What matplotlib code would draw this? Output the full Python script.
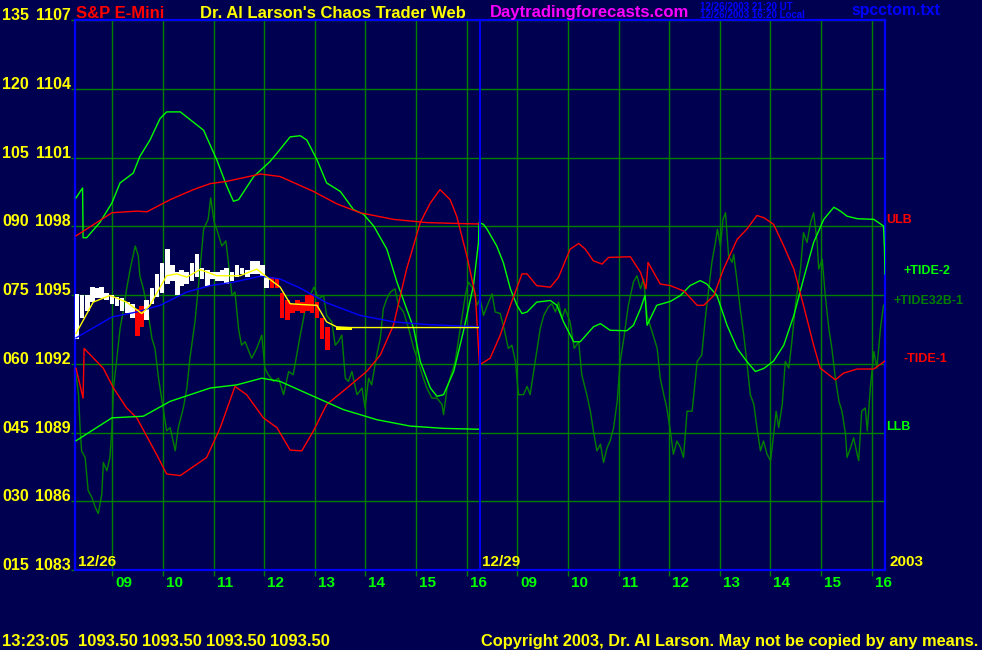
import numpy as np
import matplotlib
matplotlib.use('Agg')
from matplotlib import pyplot as plt
from matplotlib import font_manager as fm
from matplotlib import transforms

# ---- data ----
# time axis: hours since the left edge of the chart, day 1 = 0..8, day 2 = 8..16
session_start = 8.264          # clock hour at the left edge of each day
hours = [9, 10, 11, 12, 13, 14, 15, 16]
hour_labels = ['09', '10', '11', '12', '13', '14', '15', '16']
price_levels = [1083, 1086, 1089, 1092, 1095, 1098, 1101, 1104, 1107]
level_codes = ['015', '030', '045', '060', '075', '090', '105', '120', '135']

# upper / lower bands (day 1 only)
ulb_t = [0.02, 0.73, 1.22, 1.42, 1.88, 2.34, 2.67, 3.00, 3.66, 4.05, 4.71, 5.17, 5.63, 6.29, 6.95, 7.74, 8.0]
ulb_p = [1097.58, 1098.59, 1098.66, 1098.63, 1099.16, 1099.60, 1099.86, 1099.96, 1100.28, 1100.17,
         1099.52, 1098.98, 1098.59, 1098.30, 1098.16, 1098.11, 1098.10]
llb_t = [0.02, 0.73, 1.35, 1.88, 2.67, 3.20, 3.69, 4.05, 4.71, 5.30, 5.96, 6.62, 7.28, 8.0]
llb_p = [1088.64, 1089.64, 1089.71, 1090.36, 1090.94, 1091.08, 1091.37, 1091.23, 1090.58, 1090.00,
         1089.56, 1089.28, 1089.18, 1089.14]

# moving averages (day 1 only)
blue_t = [0.02, 0.73, 1.22, 1.68, 2.21, 2.67, 3.13, 3.66, 4.05, 4.45, 4.97, 5.63, 6.29, 6.95, 8.0]
blue_p = [1093.13, 1094.04, 1094.26, 1094.55, 1095.13, 1095.41, 1095.56, 1095.82, 1095.70, 1095.30,
          1094.66, 1094.11, 1093.83, 1093.71, 1093.61]
yel_t = [0.02, 0.36, 0.69, 1.02, 1.32, 1.48, 1.81, 2.01, 2.21, 2.47, 2.80, 3.26, 3.59, 3.79, 4.05,
         4.25, 4.51, 4.78, 4.97, 5.17, 5.43, 8.0]
yel_p = [1093.32, 1094.69, 1094.98, 1094.69, 1094.19, 1094.55, 1095.84, 1095.92, 1095.78, 1096.11,
         1095.84, 1095.84, 1096.13, 1095.78, 1095.35, 1094.62, 1094.58, 1094.55, 1093.83, 1093.61,
         1093.58, 1093.58]
last_t = [5.17, 5.43]          # thicker piece of the yellow line (last trade)
last_p = [1093.58, 1093.58]

# price bars
bar_t = [0.04, 0.14, 0.24, 0.34, 0.43, 0.53, 0.63, 0.73, 0.83, 0.93, 1.03, 1.13, 1.23, 1.32, 1.42,
         1.52, 1.62, 1.72, 1.82, 1.92, 2.02, 2.11, 2.21, 2.31, 2.41, 2.51, 2.61, 2.71, 2.81, 2.91,
         3.00, 3.10, 3.20, 3.30, 3.40, 3.50, 3.60, 3.70, 3.79, 3.89, 3.99, 4.09, 4.19, 4.29, 4.39,
         4.49, 4.59, 4.68, 4.78, 4.88, 4.98]
bar_hi = [1095.05, 1094.98, 1095.00, 1095.35, 1095.30, 1095.35, 1095.10, 1095.00, 1094.90, 1094.85,
          1094.70, 1094.60, 1094.40, 1094.50, 1094.80, 1095.30, 1095.90, 1096.40, 1097.00, 1096.30,
          1096.00, 1096.10, 1096.00, 1096.40, 1096.80, 1096.20, 1096.10, 1096.00, 1096.00, 1096.10,
          1096.20, 1096.00, 1096.30, 1096.20, 1096.10, 1096.50, 1096.50, 1096.30, 1095.80, 1095.80,
          1095.70, 1095.10, 1094.80, 1094.60, 1094.80, 1094.70, 1095.00, 1095.05, 1094.70, 1094.00,
          1093.60]
bar_lo = [1093.10, 1094.00, 1094.30, 1094.70, 1094.85, 1094.85, 1094.80, 1094.60, 1094.50, 1094.30,
          1094.20, 1094.00, 1093.20, 1093.60, 1093.90, 1094.60, 1094.90, 1095.10, 1095.50, 1095.60,
          1095.00, 1095.40, 1095.50, 1095.60, 1095.80, 1095.70, 1095.40, 1095.70, 1095.60, 1095.60,
          1095.50, 1095.60, 1095.80, 1095.90, 1095.80, 1095.90, 1095.90, 1095.80, 1095.30, 1095.30,
          1095.30, 1094.00, 1093.90, 1094.20, 1094.30, 1094.20, 1094.30, 1094.20, 1094.00, 1093.10,
          1092.60]
bar_dir = ['w'] * 12 + ['r'] * 2 + ['w'] * 25 + ['r'] * 12

# -TIDE-1 (red)
tide1_t = [0.02, 0.16, 0.18, 0.56, 0.76, 1.02, 1.22, 1.61, 1.81, 2.08, 2.60, 2.87, 3.16, 3.39, 3.72,
           3.99, 4.25, 4.48, 4.71, 4.97, 5.37, 5.76, 6.03, 6.29, 6.55, 6.82, 7.02, 7.21, 7.41, 7.54,
           7.74, 7.91, 7.99,
           8.20, 8.40, 8.60, 8.83, 8.93, 9.12, 9.39, 9.55, 9.78, 9.95, 10.08, 10.24, 10.41, 10.54,
           10.97, 11.17, 11.28, 11.32, 11.56, 11.76, 12.03, 12.29, 12.42, 12.62, 12.81, 13.08, 13.27,
           13.47, 13.61, 13.80, 14.00, 14.20, 14.39, 14.59, 14.72, 15.02, 15.18, 15.45, 15.78, 16.0]
tide1_p = [1091.80, 1090.50, 1092.67, 1091.80, 1090.94, 1090.07, 1089.64, 1088.05, 1087.19, 1087.12,
           1087.91, 1089.21, 1091.01, 1090.65, 1089.64, 1089.21, 1088.23, 1088.20, 1089.07, 1090.22,
           1090.94, 1091.66, 1092.38, 1093.68, 1096.13, 1098.16, 1099.02, 1099.60, 1099.16, 1098.44,
           1096.71, 1094.98, 1091.95,
           1092.24, 1093.25, 1094.55, 1095.92, 1095.92, 1095.41, 1095.34, 1095.77, 1097.00, 1097.25,
           1097.00, 1096.49, 1096.35, 1096.64, 1096.67, 1095.99, 1095.27, 1096.42, 1095.48, 1095.41,
           1095.17, 1094.55, 1094.55, 1094.98, 1096.13, 1097.43, 1097.87, 1098.47, 1098.37, 1098.08,
           1097.14, 1096.13, 1094.55, 1092.81, 1091.81, 1091.30, 1091.59, 1091.77, 1091.77, 1092.12]

# +TIDE-2 (bright green)
tide2_t = [0.02, 0.15, 0.16, 0.23, 0.49, 0.73, 0.89, 1.15, 1.28, 1.48, 1.68, 1.81, 2.08, 2.54, 2.80,
           3.00, 3.13, 3.23, 3.53, 3.85, 3.99, 4.25, 4.45, 4.58, 4.78, 4.97, 5.24, 5.50, 5.70, 5.90,
           6.16, 6.36, 6.55, 6.69, 6.82, 7.02, 7.15, 7.28, 7.48, 7.67, 7.87, 7.97, 7.98,
           8.07, 8.14, 8.33, 8.46, 8.60, 8.73, 8.83, 8.93, 9.12, 9.39, 9.52, 9.65, 9.85, 9.98, 10.24,
           10.38, 10.57, 10.90, 11.03, 11.17, 11.26, 11.30, 11.49, 11.76, 11.96, 12.15, 12.35, 12.48,
           12.68, 12.88, 13.08, 13.27, 13.44, 13.61, 13.80, 14.00, 14.20, 14.39, 14.59, 14.79, 14.99,
           15.12, 15.25, 15.45, 15.78, 15.97, 15.99, 16.0]
tide2_p = [1099.24, 1099.67, 1097.50, 1097.50, 1098.16, 1099.02, 1099.89, 1100.32, 1101.04, 1101.76,
           1102.70, 1102.99, 1102.99, 1102.19, 1100.90, 1099.74, 1099.09, 1099.16, 1100.17, 1100.82,
           1101.19, 1101.90, 1101.95, 1101.76, 1100.90, 1099.89, 1099.52, 1098.73, 1098.52, 1098.01,
           1097.00, 1095.56, 1094.40, 1093.54, 1092.10, 1090.94, 1090.58, 1090.65, 1091.66, 1093.39,
           1095.41, 1097.29, 1098.16,
           1098.08, 1097.87, 1097.14, 1096.42, 1095.27, 1094.55, 1094.19, 1094.26, 1094.69, 1094.76,
           1094.55, 1093.83, 1092.96, 1092.96, 1093.61, 1093.75, 1093.46, 1093.44, 1093.68, 1094.40,
           1094.98, 1093.68, 1094.55, 1094.72, 1094.98, 1095.41, 1095.63, 1095.48, 1094.98, 1093.68,
           1092.67, 1092.10, 1091.66, 1091.80, 1092.12, 1092.81, 1094.11, 1095.70, 1097.29, 1098.30,
           1098.83, 1098.66, 1098.44, 1098.33, 1098.30, 1098.01, 1097.00, 1095.92]

# +TIDE32B-1 (dark green)
tide32_t = [0.02, 0.07, 0.10, 0.13, 0.20, 0.26, 0.33, 0.40, 0.46, 0.53, 0.56, 0.63, 0.69, 0.73, 0.76,
            0.82, 0.89, 0.95, 1.02, 1.09, 1.19, 1.25, 1.28, 1.35, 1.42, 1.52, 1.58, 1.65, 1.75, 1.81,
            1.88, 1.98, 2.04, 2.14, 2.21, 2.27, 2.37, 2.47, 2.54, 2.63, 2.68, 2.75, 2.80, 2.90, 2.98,
            3.03, 3.10, 3.16, 3.23, 3.29, 3.36, 3.49, 3.59, 3.69, 3.75, 3.82, 3.92, 4.02, 4.12, 4.22,
            4.31, 4.38, 4.45, 4.55, 4.64, 4.72, 4.81, 4.91, 4.97, 5.07, 5.14, 5.20, 5.27, 5.34, 5.40,
            5.47, 5.57, 5.67, 5.73, 5.80, 5.86, 5.96, 6.03, 6.09, 6.16, 6.23, 6.32, 6.39, 6.49, 6.59,
            6.69, 6.78, 6.88, 6.95, 7.05, 7.15, 7.25, 7.28, 7.35, 7.41, 7.51, 7.61, 7.71, 7.77, 7.87,
            7.94,
            8.00, 8.07, 8.17, 8.24, 8.30, 8.40, 8.46, 8.56, 8.63, 8.70, 8.76, 8.86, 8.93, 8.99, 9.09,
            9.19, 9.26, 9.35, 9.42, 9.49, 9.55, 9.62, 9.68, 9.78, 9.86, 9.95, 10.01, 10.11, 10.18,
            10.24, 10.31, 10.38, 10.44, 10.51, 10.57, 10.64, 10.71, 10.77, 10.84, 10.93, 11.03, 11.10,
            11.17, 11.23, 11.30, 11.40, 11.50, 11.56, 11.63, 11.69, 11.76, 11.82, 11.89, 11.96, 12.02,
            12.09, 12.19, 12.29, 12.38, 12.45, 12.52, 12.58, 12.65, 12.69, 12.75, 12.80, 12.85, 12.91,
            12.98, 13.01, 13.08, 13.14, 13.21, 13.27, 13.34, 13.41, 13.47, 13.54, 13.60, 13.67, 13.74,
            13.80, 13.85, 13.90, 13.97, 14.03, 14.10, 14.16, 14.23, 14.33, 14.39, 14.46, 14.53, 14.59,
            14.66, 14.69, 14.76, 14.82, 14.89, 14.95, 15.02, 15.09, 15.15, 15.22, 15.25, 15.32, 15.38,
            15.45, 15.48, 15.54, 15.61, 15.65, 15.71, 15.78, 15.84, 15.91, 15.97, 16.0]
tide32_p = [1091.52, 1090.65, 1089.21, 1088.20, 1087.91, 1086.47, 1086.18, 1085.74, 1085.46, 1086.32,
            1087.69, 1087.33, 1087.91, 1089.21, 1090.94, 1092.10, 1093.54, 1094.26, 1095.27, 1096.13,
            1097.14, 1096.71, 1095.84, 1095.27, 1094.55, 1093.10, 1092.67, 1091.37, 1089.93, 1089.07,
            1089.21, 1088.20, 1089.21, 1090.07, 1090.94, 1092.24, 1093.83, 1096.13, 1097.87, 1098.30,
            1099.24, 1098.16, 1097.87, 1097.14, 1097.36, 1096.42, 1094.98, 1095.13, 1093.54, 1092.81,
            1092.96, 1092.24, 1092.67, 1093.25, 1091.81, 1091.52, 1091.23, 1091.37, 1090.65, 1091.66,
            1091.52, 1092.38, 1093.25, 1094.40, 1094.98, 1095.34, 1094.84, 1094.98, 1094.11, 1093.83,
            1092.81, 1092.96, 1093.25, 1091.37, 1091.23, 1091.66, 1090.65, 1090.94, 1090.07, 1091.37,
            1091.08, 1092.38, 1093.10, 1094.40, 1094.84, 1095.13, 1095.27, 1094.55, 1094.26, 1093.54,
            1092.67, 1092.10, 1091.37, 1090.94, 1090.50, 1090.50, 1090.22, 1089.78, 1090.94, 1091.37,
            1092.10, 1093.54, 1094.98, 1095.56, 1095.27, 1094.55,
            1094.84, 1094.11, 1094.69, 1095.05, 1094.26, 1094.19, 1093.68, 1092.67, 1092.81, 1092.10,
            1090.65, 1090.65, 1091.01, 1090.65, 1092.10, 1093.54, 1094.11, 1094.48, 1094.62, 1094.26,
            1094.69, 1093.97, 1094.40, 1093.83, 1092.67, 1092.96, 1091.52, 1090.65, 1089.93, 1089.07,
            1088.20, 1088.49, 1087.69, 1088.34, 1088.63, 1089.21, 1090.36, 1092.10, 1093.10, 1094.55,
            1095.56, 1095.84, 1095.27, 1095.70, 1094.11, 1093.39, 1092.67, 1091.37, 1090.65, 1090.07,
            1089.07, 1088.05, 1088.63, 1088.34, 1087.91, 1089.93, 1089.93, 1092.10, 1092.38, 1093.97,
            1095.27, 1096.42, 1097.29, 1097.87, 1097.14, 1098.30, 1098.59, 1096.71, 1096.42, 1096.78,
            1095.56, 1094.40, 1093.25, 1092.10, 1090.65, 1090.22, 1089.21, 1088.20, 1088.63, 1088.05,
            1087.77, 1088.92, 1089.93, 1089.21, 1090.22, 1092.10, 1091.81, 1092.96, 1094.55, 1096.13,
            1097.72, 1097.29, 1098.16, 1098.59, 1097.29, 1096.13, 1096.56, 1094.98, 1093.54, 1092.67,
            1091.37, 1090.36, 1089.93, 1088.92, 1087.91, 1088.34, 1088.77, 1088.05, 1087.77, 1089.93,
            1090.07, 1089.07, 1090.94, 1092.53, 1091.81, 1093.54, 1094.55, 1094.62]

# ---- style ----
NAVY = '#000050'
GRID = '#008000'
BLUE = '#0000FF'
YELLOW = '#FFFF00'
RED = '#FF0000'
LIME = '#00FF00'
W, H = 982, 650

names = {f.name for f in fm.fontManager.ttflist}
FONT = 'Liberation Sans' if 'Liberation Sans' in names else 'DejaVu Sans'

fig = plt.figure(figsize=(W / 100, H / 100), dpi=100, facecolor=NAVY)
ax = fig.add_axes([75 / W, 80 / H, 810 / W, 550 / H], facecolor=NAVY)


def ftext(x, y, s, color, size=12, **kw):
    # place text using pixel coords of the reference (x left, y baseline from top)
    fig.text(x / W, 1 - y / H, s, color=color, fontsize=size, fontfamily=FONT,
             fontweight='bold', va='baseline', ha='left', **kw)


# grid
tick_pos = [d * 8 + h - session_start for d in (0, 1) for h in hours]
ax.set_xlim(0, 16)
ax.set_ylim(1083, 1107)
ax.set_xticks(tick_pos)
ax.set_xticklabels(hour_labels * 2, ha='left')
ax.set_yticks(price_levels)
ax.set_yticklabels([])
ax.grid(True, color=GRID, lw=1.0)
ax.set_axisbelow(True)
ax.tick_params(axis='x', colors=GRID, length=4, width=1.0, pad=0.5,
               labelcolor=LIME, labelsize=11)
ax.tick_params(axis='y', colors=GRID, length=3, width=1.0)
offset = transforms.ScaledTranslation(3 / 100, 0, fig.dpi_scale_trans)
for lab in ax.get_xticklabels():
    lab.set_fontfamily(FONT)
    lab.set_fontweight('bold')
    lab.set_transform(lab.get_transform() + offset)
for sp in ax.spines.values():
    sp.set_color(BLUE)
    sp.set_linewidth(1.6)
ax.axvline(8, color=BLUE, lw=1.4, zorder=6)

# series
ax.plot(tide32_t, tide32_p, color=GRID, lw=1.0, zorder=2)
ax.plot(tide2_t, tide2_p, color=LIME, lw=1.0, zorder=3)
ax.plot(tide1_t, tide1_p, color=RED, lw=1.0, zorder=3)
ax.plot(ulb_t, ulb_p, color=RED, lw=1.0, zorder=3)
ax.plot(llb_t, llb_p, color=LIME, lw=1.0, zorder=3)

bar_hi = np.array(bar_hi)
bar_lo = np.array(bar_lo)
bar_col = ['white' if d == 'w' else RED for d in bar_dir]
ax.bar(bar_t, bar_hi - bar_lo, bottom=bar_lo, width=0.095, color=bar_col, lw=0, zorder=4)

ax.plot(blue_t, blue_p, color=BLUE, lw=1.0, zorder=5)
ax.plot(yel_t, yel_p, color=YELLOW, lw=1.0, zorder=5)
ax.plot(last_t, last_p, color=YELLOW, lw=2.2, zorder=5)

# left axis labels
trans = transforms.blended_transform_factory(fig.transFigure, ax.transData)
for code, lev in zip(level_codes, price_levels):
    fig.text(2 / W, lev, code, transform=trans, color=YELLOW, fontsize=11.5,
             fontfamily=FONT, fontweight='bold', va='baseline', ha='left')
    fig.text(71 / W, lev, str(lev), transform=trans, color=YELLOW, fontsize=11.5,
             fontfamily=FONT, fontweight='bold', va='baseline', ha='right')

# header
ftext(76, 17.5, 'S&P E-Mini', RED)
ftext(200, 17.5, "Dr. Al Larson's Chaos Trader Web", YELLOW)
ftext(490, 17.5, 'Daytradingforecasts.com', '#FF00FF')
ftext(700, 9.7, '12/26/2003 21:20 UT', BLUE, size=7)
ftext(700, 18.5, '12/26/2003 16:20 Local', BLUE, size=7)
ftext(851, 15, 'spcctom.txt', BLUE, size=11.3)

# day labels
ftext(78, 566, '12/26', YELLOW, size=11)
ftext(482, 566, '12/29', YELLOW, size=11)
ftext(889, 566, '2003', YELLOW, size=11)

# right side labels
ftext(886, 223, 'ULB', RED, size=9)
ftext(903, 274, '+TIDE-2', LIME, size=9)
ftext(894, 304, '+TIDE32B-1', GRID, size=9)
ftext(903, 362, '-TIDE-1', RED, size=9)
ftext(886, 430.5, 'LLB', LIME, size=9)

# footer
ftext(2, 646, '13:23:05', YELLOW)
for xx in (78, 142, 206, 270):
    ftext(xx, 646, '1093.50', YELLOW)
ftext(481, 646, 'Copyright 2003, Dr. Al Larson. May not be copied by any means.', YELLOW, size=11.8)

fig.savefig('out.png', dpi=100, facecolor=NAVY)
